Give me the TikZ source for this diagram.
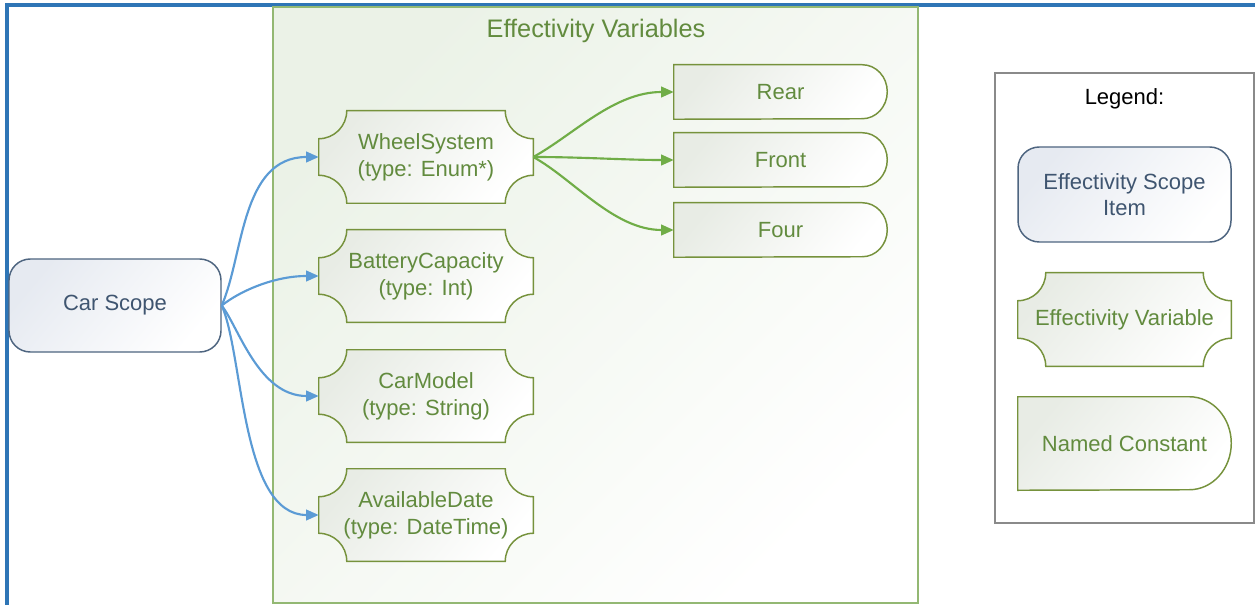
\documentclass[tikz,border=0pt]{standalone}
\usepackage{fontspec}
\setmainfont{Liberation Sans}
\usetikzlibrary{arrows.meta,calc}

\definecolor{frameblue}{HTML}{2E75B6}
\definecolor{linkblue}{HTML}{5B9BD5}
\definecolor{scopeline}{HTML}{4E6580}
\definecolor{scopetext}{HTML}{3F5570}
\definecolor{scopebg}{HTML}{E6EAF1}
\definecolor{vartext}{HTML}{628B3E}
\definecolor{varline}{HTML}{76923C}
\definecolor{varbg}{HTML}{E8ECE5}
\definecolor{linkgreen}{HTML}{70AD47}
\definecolor{groupline}{HTML}{93B873}
\definecolor{groupbg}{HTML}{EBF2E7}
\definecolor{legendline}{HTML}{8A8A8A}

\newcommand\nodefont{\fontsize{16.5}{20}\selectfont}
\newcommand\titlefont{\fontsize{19}{22}\selectfont}

\pgfdeclarelayer{back}
\pgfdeclarelayer{shapes}
\pgfsetlayers{back,shapes,main}

% outline of an effectivity variable: box with concave quarter-circle corners
\newcommand\plaqueoutline[2]{%
  \path[shapeline] ($(#1.north west)+(#2,0)$) -- ($(#1.north east)+(-#2,0)$)
    arc[start angle=180,end angle=270,radius=#2]
    -- ($(#1.south east)+(0,#2)$)
    arc[start angle=90,end angle=180,radius=#2]
    -- ($(#1.south west)+(#2,0)$)
    arc[start angle=0,end angle=90,radius=#2]
    -- ($(#1.north west)+(0,-#2)$)
    arc[start angle=270,end angle=360,radius=#2] -- cycle;}

% outline of a named constant: square left end, rounded right end
\newcommand\tabendoutline[3]{%
  \path[shapeline] (#1.south west) -- (#1.north west) -- ($(#1.north east)+(-#2,0)$)
    arc[start angle=90,end angle=-90,x radius=#2,y radius=#3] -- cycle;}

\tikzset{
  txt/.style={font=\nodefont, align=center, inner sep=0pt},
  varnode/.style={txt, text=vartext, minimum width=160.5pt, minimum height=69pt},
  constnode/.style={txt, text=vartext, minimum width=159.75pt, minimum height=40.5pt},
  scopenode/.style={txt, text=scopetext, draw=scopeline, line width=1.1pt,
    rounded corners=16pt, top color=scopebg, bottom color=white, shading angle=50},
  shapeline/.style={draw=varline, line width=1.1pt, top color=varbg,
    bottom color=white, shading angle=50},
  groupbox/.style={draw=groupline, line width=1.1pt, top color=groupbg,
    bottom color=white, shading angle=45,
    minimum width=483.75pt, minimum height=447pt, inner sep=0pt},
  legendbox/.style={draw=legendline, line width=1.5pt, fill=white,
    minimum width=194.25pt, minimum height=337.5pt, inner sep=0pt},
  bluelink/.style={draw=linkblue, line width=1.6pt, -{Triangle[length=9.5pt,width=8pt]}},
  greenlink/.style={draw=linkgreen, line width=1.6pt, -{Triangle[length=9.5pt,width=8pt]}},
}

\begin{document}
\begin{tikzpicture}[x=0.75pt,y=0.75pt]
\useasboundingbox (0,0) rectangle (1255,604);

\begin{pgfonlayer}{back}
  \fill[white] (0,0) rectangle (1255,604);
  \begin{scope}
    \clip (0,0) rectangle (1255,604);
    \draw[frameblue, line width=2.4pt] (7,-40) -- (7,599) -- (1300,599);
  \end{scope}
  \node[groupbox] (group) at (595.5,299) {};
  \node[legendbox] (legend) at (1124.5,306) {};
\end{pgfonlayer}

\node[txt, font=\titlefont, text=vartext] (title) at (596,573) {Effectivity Variables};

% scope item
\node[scopenode, minimum width=159pt, minimum height=69.75pt] (car) at (115,298.5) {Car Scope};

% effectivity variables
\node[varnode] (ws) at (426,447) {WheelSystem\\(type: Enum*)};
\node[varnode] (bc) at (426,328) {BatteryCapacity\\(type: Int)};
\node[varnode] (cm) at (426,208) {CarModel\\(type: String)};
\node[varnode] (ad) at (426,89)  {AvailableDate\\(type: DateTime)};

% named constants
\node[constnode] (rear)  at (780.5,512) {Rear};
\node[constnode] (front) at (780.5,444) {Front};
\node[constnode] (four)  at (780.5,374) {Four};

% legend
\node[txt, text=black] (legendtitle) at (1124.5,505) {Legend:};
\node[scopenode, minimum width=159.75pt, minimum height=71.25pt] (lscope) at (1124.5,409.5) {Effectivity Scope\\Item};
\node[varnode, minimum width=159.75pt, minimum height=69.75pt] (lvar) at (1124.5,284.5) {Effectivity Variable};
\node[constnode, minimum height=69.75pt] (lconst) at (1124.5,160.5) {Named Constant};

\begin{pgfonlayer}{shapes}
  \plaqueoutline{ws}{28}
  \plaqueoutline{bc}{28}
  \plaqueoutline{cm}{28}
  \plaqueoutline{ad}{28}
  \plaqueoutline{lvar}{28}
  \tabendoutline{rear}{25}{27}
  \tabendoutline{front}{25}{27}
  \tabendoutline{four}{25}{27}
  \tabendoutline{lconst}{42}{46.5}
\end{pgfonlayer}

% scope to variables
\draw[bluelink] (car.east) .. controls +(22,50) and +(-78,0) .. (ws.west);
\draw[bluelink] (car.east) .. controls +(19,15) and +(-44,0) .. (bc.west);
\draw[bluelink] (car.east) .. controls +(17,-22) and +(-60,0) .. (cm.west);
\draw[bluelink] (car.east) .. controls +(22,-50) and +(-78,0) .. (ad.west);

% enum values
\draw[greenlink] (ws.east) .. controls +(40,22) and +(-60,0) .. (rear.west);
\draw[greenlink] (ws.east) .. controls +(50,0) and +(-50,0) .. (front.west);
\draw[greenlink] (ws.east) .. controls +(40,-22) and +(-60,0) .. (four.west);
\end{tikzpicture}
\end{document}
